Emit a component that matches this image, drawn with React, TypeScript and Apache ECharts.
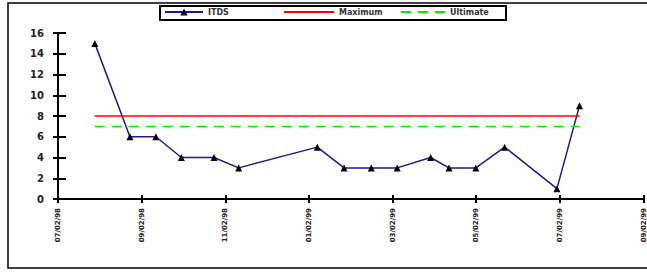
import React, { useEffect, useRef } from "react";
import * as echarts from "echarts";

// x positions in months from the first tick
const itdsX = [0.88, 1.72, 2.34, 2.95, 3.73, 4.32, 6.2, 6.84, 7.49, 8.11, 8.91, 9.35, 9.99, 10.68, 11.93, 12.47];
const itdsY = [15, 6, 6, 4, 4, 3, 5, 3, 3, 3, 4, 3, 3, 5, 1, 9];
const maximumValue = 8;
const ultimateValue = 7;
const tickLabels = ["07/02/98", "09/02/98", "11/02/98", "01/02/99", "03/02/99", "05/02/99", "07/02/99", "09/02/99"];
const seriesNames = ["ITDS", "Maximum", "Ultimate"];

export default function App() {
  const ref = useRef<HTMLDivElement>(null);
  useEffect(() => {
    const chart = echarts.init(ref.current!, null, { renderer: "svg" });
    const first = itdsX[0];
    const last = itdsX[itdsX.length - 1];
    const labelFont = { fontFamily: "DejaVu Sans", fontWeight: "bold" as const };
    chart.setOption({
      animation: false,
      backgroundColor: "#fff",
      grid: { left: 58, top: 33, right: 2, bottom: 74, containLabel: false },
      legend: [
        {
          data: [seriesNames[0]], left: 164, top: 8, itemWidth: 38, itemHeight: 9, padding: 0, itemGap: 0,
          textStyle: { ...labelFont, fontSize: 8, color: "#333" },
        },
        {
          data: [{ name: seriesNames[1], itemStyle: { opacity: 0 } }], left: 283, top: 8, itemWidth: 50, itemHeight: 9, padding: 0,
          textStyle: { ...labelFont, fontSize: 8, color: "#333" },
        },
        {
          data: [{ name: seriesNames[2], itemStyle: { opacity: 0 } }], left: 400, top: 8, itemWidth: 44, itemHeight: 9, padding: 0,
          textStyle: { ...labelFont, fontSize: 8, color: "#333" },
        },
      ],
      graphic: [
        { type: "rect", shape: { x: 8, y: 3, width: 700, height: 265 }, style: { fill: "none", stroke: "#000", lineWidth: 1.5 }, silent: true },
        { type: "rect", shape: { x: 160, y: 6, width: 346, height: 14 }, style: { fill: "none", stroke: "#000", lineWidth: 2 }, silent: true, z: 10 },
      ],
      xAxis: [
        {
          type: "value", min: 0, max: 14, interval: 2,
          axisLine: { lineStyle: { color: "#000", width: 2 } },
          axisTick: { show: true, length: 4, lineStyle: { color: "#000", width: 2 } },
          splitLine: { show: false },
          axisLabel: {
            rotate: 90, margin: 9, fontSize: 7, color: "#222", ...labelFont,
            formatter: (v: number) => tickLabels[Math.round(v / 2)] ?? "",
          },
        },
        {
          type: "value", min: 0, max: 14, interval: 2, position: "bottom",
          axisLine: { show: false },
          axisTick: { show: true, inside: true, length: 4, lineStyle: { color: "#000", width: 2 } },
          splitLine: { show: false }, axisLabel: { show: false },
        },
      ],
      yAxis: [
        {
          type: "value", min: 0, max: 16, interval: 2,
          axisLine: { show: true, lineStyle: { color: "#000", width: 2 } },
          axisTick: { show: true, length: 5, lineStyle: { color: "#000", width: 2 } },
          splitLine: { show: false },
          axisLabel: { margin: 14, fontSize: 10, color: "#222", ...labelFont },
        },
        {
          type: "value", min: 0, max: 16, interval: 2, position: "left",
          axisLine: { show: false },
          axisTick: { show: true, inside: true, length: 8, lineStyle: { color: "#000", width: 2 } },
          splitLine: { show: false }, axisLabel: { show: false },
        },
      ],
      series: [
        {
          name: seriesNames[0], type: "line",
          data: itdsX.map((x, i) => [x, itdsY[i]]),
          symbol: "triangle", symbolSize: 7, showAllSymbol: true,
          itemStyle: { color: "#000" },
          lineStyle: { color: "#1a1a8c", width: 1.5 },
          z: 3,
        },
        {
          name: seriesNames[1], type: "line",
          data: [[first, maximumValue], [last, maximumValue]],
          symbol: "none", itemStyle: { color: "#ff0000" },
          lineStyle: { color: "#ff0000", width: 1.5 },
        },
        {
          name: seriesNames[2], type: "line",
          data: [[first, ultimateValue], [last, ultimateValue]],
          symbol: "none", itemStyle: { color: "#00ee00" },
          lineStyle: { color: "#00ee00", width: 1.5, type: [10, 7] },
        },
      ],
    });
    return () => chart.dispose();
  }, []);
  return <div ref={ref} style={{ position: "absolute", left: 0, top: 0, width: 647, height: 273 }} />;
}
